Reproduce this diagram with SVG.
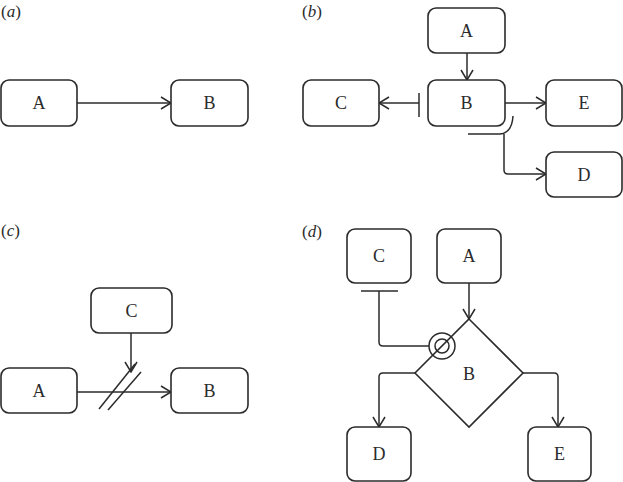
<svg xmlns="http://www.w3.org/2000/svg" width="623" height="482" viewBox="0 0 623 482">
<defs>
<marker id="arr" viewBox="0 0 12 14" refX="11" refY="7" markerWidth="12" markerHeight="14" orient="auto" markerUnits="userSpaceOnUse">
<path d="M1,1 L11,7 L1,13" fill="none" stroke="#2b2b2b" stroke-width="1.5"/>
</marker>
<style>
.box{fill:#fff;stroke:#2b2b2b;stroke-width:1.6}
.ln{fill:none;stroke:#2b2b2b;stroke-width:1.5}
.t{font-family:"Liberation Serif",serif;font-size:18px;fill:#2b2b2b;text-anchor:middle}
.lab{font-family:"Liberation Serif",serif;font-size:17px;fill:#2b2b2b}
</style>
</defs>
<rect width="623" height="482" fill="#fff"/>
<text class="lab" x="1" y="17">(<tspan font-style="italic">a</tspan>)</text>
<text class="lab" x="302" y="17">(<tspan font-style="italic">b</tspan>)</text>
<text class="lab" x="1" y="236">(<tspan font-style="italic">c</tspan>)</text>
<text class="lab" x="302" y="237">(<tspan font-style="italic">d</tspan>)</text>

<g id="connectors">
<!-- a -->
<line class="ln" x1="77" y1="103" x2="171" y2="103" marker-end="url(#arr)"/>
<!-- b -->
<line class="ln" x1="467" y1="53" x2="467" y2="80" marker-end="url(#arr)"/>
<line class="ln" x1="419" y1="103" x2="379" y2="103" marker-end="url(#arr)"/>
<line class="ln" x1="419" y1="93" x2="419" y2="117"/>
<line class="ln" x1="505" y1="103" x2="546" y2="103" marker-end="url(#arr)"/>
<path class="ln" d="M468,134 L500,134 Q512,133 513,116"/>
<path class="ln" d="M504,134 V170 Q504,174 508,174 H546" marker-end="url(#arr)"/>
<!-- c -->
<line class="ln" x1="77" y1="392" x2="171" y2="392" marker-end="url(#arr)"/>
<line class="ln" x1="131" y1="333" x2="131" y2="372" marker-end="url(#arr)"/>
<line class="ln" x1="99" y1="409" x2="135" y2="364"/>
<line class="ln" x1="108" y1="410" x2="141" y2="372"/>
<!-- d -->
<line class="ln" x1="469" y1="283" x2="469" y2="319" marker-end="url(#arr)"/>
<line class="ln" x1="361" y1="291" x2="398" y2="291"/>
<path class="ln" d="M379,291 V342 Q379,346 383,346 H429"/>
<circle class="ln" cx="442" cy="346" r="13"/>
<circle class="ln" cx="442" cy="346" r="7"/>
<path class="ln" d="M415,373 H383 Q379,373 379,377 V427" marker-end="url(#arr)"/>
<path class="ln" d="M523,373 H554 Q558,373 558,377 V427" marker-end="url(#arr)"/>
</g>

<g id="a-A"><rect class="box" x="1" y="80" width="76" height="46" rx="8"/><text class="t" x="39" y="109">A</text></g>
<g id="a-B"><rect class="box" x="171" y="80" width="77" height="46" rx="8"/><text class="t" x="209.5" y="109">B</text></g>

<g id="b-A"><rect class="box" x="428" y="8" width="77" height="45" rx="8"/><text class="t" x="466.5" y="37">A</text></g>
<g id="b-B"><rect class="box" x="428" y="80" width="77" height="46" rx="8"/><text class="t" x="466.5" y="109">B</text></g>
<g id="b-C"><rect class="box" x="303" y="80" width="76" height="46" rx="8"/><text class="t" x="341" y="109">C</text></g>
<g id="b-E"><rect class="box" x="546" y="80" width="76" height="46" rx="8"/><text class="t" x="584" y="109">E</text></g>
<g id="b-D"><rect class="box" x="546" y="152" width="76" height="45" rx="8"/><text class="t" x="584" y="181">D</text></g>

<g id="c-C"><rect class="box" x="91" y="288" width="81" height="45" rx="8"/><text class="t" x="131.5" y="317">C</text></g>
<g id="c-A"><rect class="box" x="1" y="368" width="76" height="45" rx="8"/><text class="t" x="39" y="397">A</text></g>
<g id="c-B"><rect class="box" x="171" y="368" width="77" height="45" rx="8"/><text class="t" x="209.5" y="397">B</text></g>

<g id="d-C"><rect class="box" x="347" y="229" width="64" height="54" rx="8"/><text class="t" x="379" y="262">C</text></g>
<g id="d-A"><rect class="box" x="437" y="229" width="64" height="54" rx="8"/><text class="t" x="469" y="262">A</text></g>
<g id="d-B"><path d="M469,319 L523,373 L469,427 L415,373 Z" fill="none" stroke="#2b2b2b" stroke-width="1.6"/><text class="t" x="469" y="380">B</text></g>
<g id="d-D"><rect class="box" x="347" y="427" width="64" height="54" rx="8"/><text class="t" x="379" y="460">D</text></g>
<g id="d-E"><rect class="box" x="528" y="427" width="63" height="54" rx="8"/><text class="t" x="559.5" y="460">E</text></g>
</svg>
